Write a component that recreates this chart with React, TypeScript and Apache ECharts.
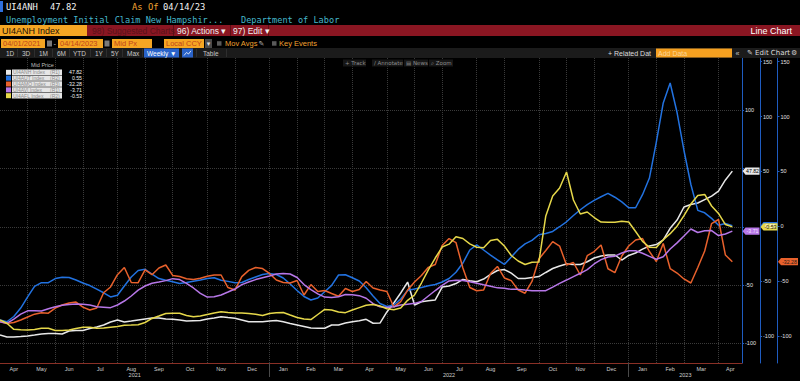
import React, { useEffect, useRef } from "react";
import * as echarts from "echarts";

// ---------- categories ----------
const FIRST_WEEK = "2021-04-02"; // weekly observations (Fridays)
const WEEKS = 107;
const monthNames = ["Jan", "Feb", "Mar", "Apr", "May", "Jun", "Jul", "Aug", "Sep", "Oct", "Nov", "Dec"];

// ---------- series values ----------
const nhValues = [
  -92.9, -94.6, -94.6, -94.2, -93.7, -92.9, -92.0, -91.6, -91.6, -92.0,
  -89.4, -89.0, -89.0, -87.3, -86.0, -84.3, -81.7, -80.0, -81.7, -80.9,
  -80.0, -79.1, -78.3, -78.3, -79.1, -79.4, -80.0, -80.9, -80.6, -80.4,
  -79.1, -78.3, -77.2, -77.9, -78.5, -80.0, -81.5, -81.5, -81.5, -80.9,
  -80.4, -81.5, -83.0, -84.3, -85.6, -86.9, -87.1, -87.1, -84.3, -84.3,
  -82.6, -81.5, -80.6, -79.4, -82.8, -82.6, -73.1, -65.4, -56.8, -47.4,
  -67.1, -64.3, -63.4, -62.8, -51.7, -50.8, -48.7, -45.2, -46.3, -47.1,
  -44.8, -40.9, -37.5, -36.7, -39.7, -44.4, -44.4, -43.5, -42.7, -39.2,
  -35.8, -33.6, -31.9, -32.4, -32.4, -30.0, -26.8, -25.1, -24.2, -24.2,
  -28.5, -24.6, -22.5, -19.1, -16.5, -15.2, -11.3, -1.3, 5.8, 17.0,
  19.1, 20.4, 23.4, 26.4, 30.7, 40.2, 47.82,
];
const utValues = [
  -85.4, -87.0, -82.2, -74.5, -64.4, -54.7, -51.4, -51.4, -47.6, -46.5,
  -46.7, -49.0, -51.7, -54.0, -57.3, -60.6, -64.4, -62.8, -54.4, -46.2,
  -40.3, -39.2, -43.5, -47.6, -49.1, -50.5, -52.1, -51.2, -50.0, -49.0,
  -47.6, -46.9, -49.1, -50.2, -51.5, -51.2, -48.5, -46.2, -43.9, -43.0,
  -43.9, -47.1, -52.6, -58.5, -64.0, -67.2, -65.4, -59.6, -53.8, -44.4,
  -44.2, -46.9, -49.9, -56.0, -63.5, -70.4, -73.1, -71.7, -66.3, -58.5,
  -57.2, -55.8, -54.1, -53.1, -50.8, -47.6, -41.9, -33.5, -21.6, -17.0,
  -21.6, -26.2, -30.7, -34.8, -28.0, -21.1, -16.0, -12.9, -7.7, -6.6,
  -4.7, -0.4, 4.1, 9.8, 15.1, 19.8, 23.6, 26.9, 30.0, 26.5,
  22.2, 16.9, 16.9, 28.8, 44.0, 76.8, 112.4, 130.6, 103.7, 69.1,
  38.1, 14.5, 12.3, 7.2, 0.9, 2.6, 0.55,
];
const moValues = [
  -87.0, -88.6, -87.7, -85.4, -82.7, -80.1, -78.9, -79.2, -74.5, -71.7,
  -70.0, -69.1, -73.7, -76.3, -74.5, -60.6, -55.3, -44.1, -37.6, -51.2,
  -51.4, -39.8, -44.1, -38.0, -35.3, -44.8, -45.8, -47.8, -48.4, -47.4,
  -45.6, -44.4, -44.4, -55.8, -58.1, -45.9, -40.2, -37.6, -38.5, -43.0,
  -49.0, -51.2, -51.7, -49.4, -62.6, -53.1, -59.4, -58.5, -61.3, -63.8,
  -56.7, -59.4, -57.6, -50.3, -56.2, -58.1, -59.4, -73.6, -68.6, -58.1,
  -50.8, -44.8, -37.4, -34.8, -17.5, -11.2, -14.8, -38.0, -55.8, -58.7,
  -58.1, -43.0, -36.6, -47.1, -49.5, -58.1, -61.0, -50.3, -29.8, -22.1,
  -14.0, -18.0, -35.3, -33.0, -44.4, -26.8, -23.0, -17.0, -38.7, -42.3,
  -27.1, -18.0, -12.5, -11.1, -23.0, -32.1, -15.7, -38.5, -42.6, -48.0,
  -51.7, -37.6, -22.5, 2.5, 6.2, -26.2, -32.28,
];
const viValues = [
  -81.5, -82.9, -79.2, -74.9, -72.1, -72.1, -72.3, -70.3, -68.6, -67.4,
  -66.7, -66.3, -66.5, -67.1, -68.6, -69.0, -69.4, -67.1, -63.7, -59.4,
  -54.3, -50.8, -48.5, -47.4, -46.2, -44.5, -45.3, -48.5, -52.5, -57.1,
  -60.3, -60.1, -58.5, -56.0, -53.4, -49.6, -47.4, -45.3, -43.7, -42.2,
  -40.5, -40.1, -40.5, -43.5, -49.6, -53.9, -57.6, -60.3, -60.6, -60.0,
  -58.1, -58.4, -59.1, -61.3, -66.0, -68.6, -69.2, -68.7, -67.1, -66.4,
  -65.7, -64.1, -59.4, -54.7, -50.2, -46.5, -45.9, -46.1, -47.1, -48.5,
  -49.8, -51.0, -52.4, -52.7, -53.7, -53.7, -54.3, -54.8, -54.8, -54.8,
  -51.7, -48.5, -45.7, -42.7, -39.9, -36.8, -31.9, -28.2, -25.9, -25.2,
  -22.5, -20.5, -20.5, -22.7, -25.4, -27.9, -25.7, -19.1, -13.8, -7.9,
  -1.9, -4.9, -3.3, -3.2, -7.5, -6.2, -3.71,
];
const flValues = [
  -85.4, -88.4, -93.9, -94.3, -94.5, -94.1, -93.0, -93.0, -95.0, -95.0,
  -94.5, -93.1, -92.1, -92.1, -93.0, -92.7, -92.0, -91.3, -90.2, -90.0,
  -89.7, -87.7, -84.0, -81.8, -79.5, -79.3, -79.3, -81.3, -82.4, -81.8,
  -80.4, -79.0, -77.9, -78.6, -79.0, -79.0, -79.5, -80.2, -81.3, -79.5,
  -78.8, -78.6, -80.9, -83.1, -84.5, -85.0, -80.4, -75.8, -76.3, -78.1,
  -78.7, -76.3, -74.1, -71.9, -71.2, -72.7, -75.1, -76.1, -74.5, -67.5,
  -62.6, -51.7, -39.8, -28.9, -18.9, -16.3, -9.6, -11.1, -16.0, -19.1,
  -19.6, -12.9, -11.9, -18.0, -26.6, -31.6, -34.8, -32.8, -32.5, 9.4,
  27.6, 34.9, 49.5, 24.0, 11.2, 13.0, 8.0, 3.9, 3.6, 3.7,
  4.6, 3.9, -4.7, -13.7, -19.1, -19.3, -12.3, -6.7, 0.1, 9.8,
  20.3, 28.1, 29.0, 18.5, 11.7, 1.6, -0.53,
];

const seriesNames = ["UI4ANH Index", "UI4AUT Index", "UI4AMO Index", "UI4AVI Index", "UI4AFL Index"];
const seriesAxisTags = ["(R1)", "(R2)", "(R3)", "(R1)", "(R2)"];
const seriesAxisIndex = [0, 1, 2, 0, 1];
const seriesValues = [nhValues, utValues, moValues, viValues, flValues];

// ---------- tick labels ----------
const r1Ticks = [-100, -50, 0, 50, 100];
const r1Labels = [-100, -50, 100]; // 50 and 0 sit under the value badges
const r2Ticks = [-100, -50, 0, 50, 100, 150];
const r2Labels = [-100, -50, 50, 100, 150]; // 0 sits under the value badge
const r3Ticks = [-100, -50, 0, 50, 100, 150];
const r3Labels = [-100, -50, 0, 50, 100, 150];

// ---------- styles ----------
const seriesColors = ["#e8e8e8", "#2272e0", "#e8612c", "#b777e8", "#e6d84a"];
const badgeText = ["#000000", "#ffffff", "#1a1a1a", "#f4e6ff", "#1a1a1a"];
const SANS = "Liberation Sans, Arial, sans-serif";
const MONO = "DejaVu Sans Mono, Liberation Mono, monospace";
const ORANGE = "#f5a623";
const AXIS_BLUE = "#1f5cc0";
const X_MAX = 107.4;

// derived category structure
const weekDates = Array.from({ length: WEEKS }, (_, i) => {
  const d = new Date(FIRST_WEEK + "T00:00:00Z");
  d.setUTCDate(d.getUTCDate() + 7 * i);
  return d;
});
const monthEnds: number[] = [];
for (let i = 0; i < WEEKS - 1; i++) {
  if (weekDates[i].getUTCMonth() !== weekDates[i + 1].getUTCMonth()) monthEnds.push(i);
}
const monthLabelPos: number[] = [];
const monthLabelText: string[] = [];
{
  let prev = 0;
  monthEnds.forEach((b) => {
    monthLabelPos.push((prev + b) / 2);
    monthLabelText.push(monthNames[weekDates[b].getUTCMonth()]);
    prev = b;
  });
  monthLabelPos.push((prev + X_MAX) / 2);
  monthLabelText.push(monthNames[weekDates[WEEKS - 1].getUTCMonth()]);
}
const yearEnds = monthEnds.filter((b) => weekDates[b].getUTCFullYear() !== weekDates[b + 1].getUTCFullYear());
const yearLabelPos: number[] = [];
const yearLabelText: string[] = [];
{
  let prev = 0;
  yearEnds.forEach((b) => {
    yearLabelPos.push((prev + b) / 2);
    yearLabelText.push(String(weekDates[b].getUTCFullYear()));
    prev = b;
  });
  yearLabelPos.push((prev + X_MAX) / 2);
  yearLabelText.push(String(weekDates[WEEKS - 1].getUTCFullYear()));
}
const lookup = (pos: number[], txt: string[]) => (v: number) => {
  for (let j = 0; j < pos.length; j++) if (Math.abs(pos[j] - v) < 0.01) return txt[j];
  return "";
};

// ---------- graphic helpers ----------
const T = (x: number, y: number, text: string, fill: string, fontSize: number, family = SANS, align = "left", extra: any = {}) => ({
  type: "text",
  x,
  y,
  silent: true,
  z: 60,
  style: {
    text,
    fill,
    fontSize,
    fontFamily: family,
    align,
    textAlign: align,
    verticalAlign: "middle",
    textVerticalAlign: "middle",
    ...extra,
  },
});
const R = (x: number, y: number, w: number, h: number, fill: string, z = 55) => ({
  type: "rect",
  silent: true,
  z,
  shape: { x, y, width: w, height: h },
  style: { fill },
});
const L = (x1: number, y1: number, x2: number, y2: number, stroke: string) => ({
  type: "line",
  silent: true,
  z: 58,
  shape: { x1, y1, x2, y2 },
  style: { stroke, lineWidth: 1 },
});

function staticGraphics(): any[] {
  const g: any[] = [];
  // header rows
  g.push(R(0, 1, 3, 11, "#2f6fdc"));
  g.push(T(6, 7, "UI4ANH", "#f2f2f2", 8.8, MONO));
  g.push(T(50, 7, "47.82", "#f2f2f2", 8.8, MONO));
  g.push(T(132, 7, "As Of", "#f0a432", 8.8, MONO));
  g.push(T(163, 7, "04/14/23", "#f2f2f2", 8.8, MONO));
  g.push(T(6, 19.5, "Unemployment Initial Claim New Hampshir...", "#45b8cc", 8.6, MONO));
  g.push(T(241, 19.5, "Department of Labor", "#45b8cc", 8.6, MONO));
  // red bar
  g.push(R(0, 25, 800, 11, "#8a1622"));
  g.push(R(0, 25, 87, 11, ORANGE, 56));
  g.push(T(2, 30.5, "UI4ANH Index", "#1a0f05", 9));
  g.push(T(92, 30.5, "98) Suggested Charts", "#571219", 8.5));
  g.push(L(173.5, 25, 173.5, 36, "#5e0e16"));
  g.push(L(230.5, 25, 230.5, 36, "#5e0e16"));
  g.push(L(268.5, 25, 268.5, 36, "#5e0e16"));
  g.push(T(177, 30.5, "96) Actions \u25BE", "#f0f0f0", 8.5));
  g.push(T(233, 30.5, "97) Edit \u25BE", "#f0f0f0", 8.5));
  g.push(T(792, 30.5, "Line Chart", "#ffffff", 9, SANS, "right"));
  // row 3
  const dateTxt = "#c0441a";
  g.push(R(1, 39, 44, 9, ORANGE));
  g.push(T(3, 43.5, "04/01/2021", dateTxt, 7.5));
  g.push(R(47, 40.5, 5, 6, "#7a7a7a"));
  g.push(T(53.5, 43.5, "-", "#bbbbbb", 7.5));
  g.push(R(58, 39, 45, 9, ORANGE));
  g.push(T(60, 43.5, "04/14/2023", dateTxt, 7.5));
  g.push(R(104.5, 40.5, 5, 6, "#7a7a7a"));
  g.push(R(112, 39, 40, 9, ORANGE));
  g.push(T(114, 43.5, "Mid Px", dateTxt, 7.5));
  g.push(R(164, 39, 40, 9, ORANGE));
  g.push(T(166, 43.5, "Local CCY", dateTxt, 7.5));
  g.push(R(205, 39, 7, 9, "#4a4a4a"));
  g.push(T(208.5, 43.5, "\u25BE", "#dddddd", 7, "DejaVu Sans", "center"));
  g.push(R(217, 41.2, 4.5, 4.5, "#5a5a5a"));
  g.push(T(225, 43.5, "Mov Avgs", "#f0a030", 7.5));
  g.push(T(258.5, 43.5, "\u270E", "#bbbbbb", 7, "DejaVu Sans"));
  g.push(R(272, 41.2, 4.5, 4.5, "#5a5a5a"));
  g.push(T(279, 43.5, "Key Events", "#f0a030", 7.5));
  // row 4
  g.push(R(0, 48, 800, 10, "#1b1b1b", 50));
  const periods: [string, number][] = [["1D", 6], ["3D", 22], ["1M", 39], ["6M", 57], ["YTD", 73], ["1Y", 95], ["5Y", 111], ["Max", 127]];
  periods.forEach(([t, x]) => g.push(T(x, 53, t, "#c8c8c8", 6.5)));
  [17, 34, 52, 69, 90, 106, 122, 142, 196, 226].forEach((x) => g.push(L(x + 0.5, 49, x + 0.5, 57, "#2e2e2e")));
  g.push(R(144, 48.5, 35, 9, "#2a63c9"));
  g.push(T(147, 53, "Weekly \u25BC", "#ffffff", 6.5));
  g.push(R(182, 48.5, 11, 9, "#2a63c9"));
  g.push({
    type: "polyline",
    silent: true,
    z: 60,
    shape: { points: [[184, 55.5], [186.5, 52.5], [188.5, 54], [191, 50.8]] },
    style: { stroke: "#ffffff", lineWidth: 0.8, fill: null },
  });
  g.push(T(203, 53, "Table", "#c8c8c8", 6.5));
  g.push(T(608, 53, "+ Related Dat", "#dcdcdc", 7));
  g.push(R(656, 48.5, 76, 9, "#f5a020"));
  g.push(T(658, 53, "Add Data", "#fbd596", 7));
  g.push(T(735.5, 53, "\u00AB", "#cccccc", 7));
  g.push(T(747, 53, "\u270E Edit Chart", "#dcdcdc", 7, "DejaVu Sans, " + SANS));
  g.push(T(791, 53, "\u2699", "#cccccc", 7, "DejaVu Sans"));
  // in-chart tool buttons
  const tools: [string, number, number][] = [["+ Track", 343, 23], ["\u2215 Annotate", 372, 31], ["\u25A4 News", 404, 24], ["\u2315 Zoom", 429, 24]];
  tools.forEach(([t, x, w]) => {
    g.push(R(x, 59.5, w, 7, "#161616"));
    g.push(T(x + 2, 63, t, "#8c8c8c", 5.5, "DejaVu Sans, " + SANS));
  });
  // legend
  g.push(T(31, 65, "Mid Price", "#bdbdbd", 5.5));
  seriesNames.forEach((name, k) => {
    const yc = 72.3 + 5.85 * k;
    g.push(R(6, yc - 2.5, 5, 5, seriesColors[k]));
    g.push(R(12, yc - 2.7, 50, 5.4, "#e6e6e6"));
    g.push(T(13, yc, name, "#8a8a8a", 5));
    g.push(T(50, yc, seriesAxisTags[k], "#8a8a8a", 5));
    const last = seriesValues[k][seriesValues[k].length - 1];
    g.push(T(82, yc, last.toFixed(2), "#f0f0f0", 5.2, SANS, "right"));
  });
  return g;
}

const yAxisDef = (offset: number, min: number, max: number, ticks: number[], labels: number[], grid: boolean) => ({
  type: "value",
  position: "right",
  offset,
  min,
  max,
  axisLine: { show: true, onZero: false, lineStyle: { color: AXIS_BLUE, width: 1 } },
  axisTick: { show: true, length: 2, customValues: ticks, lineStyle: { color: AXIS_BLUE } },
  axisLabel: { show: true, customValues: labels, color: "#e0e0e0", fontSize: 5.5, margin: 3, fontFamily: SANS },
  splitLine: { show: grid, lineStyle: { color: "#3a3a3a", type: "dotted", width: 1 } },
});

const GRID_RIGHT_X = 742;
const axisX = [GRID_RIGHT_X, GRID_RIGHT_X + 18, GRID_RIGHT_X + 35.5];
const badgeW = [17, 17, 20];

export default function App() {
  const ref = useRef<HTMLDivElement>(null);
  useEffect(() => {
    document.body.style.margin = "0";
    document.body.style.background = "#000";
    const chart = echarts.init(ref.current!, null, { renderer: "svg" });
    const option: any = {
      animation: false,
      backgroundColor: "#000000",
      textStyle: { fontFamily: SANS },
      grid: { left: 0, top: 58, width: GRID_RIGHT_X, height: 305, containLabel: false },
      xAxis: [
        {
          type: "value",
          position: "bottom",
          min: 0,
          max: X_MAX,
          axisLine: { show: true, onZero: false, lineStyle: { color: "#8a3026", width: 1 } },
          axisTick: { show: false, customValues: monthEnds },
          splitLine: { show: true, lineStyle: { color: "#3a3a3a", type: "dotted", width: 1 } },
          axisLabel: {
            customValues: monthLabelPos,
            formatter: lookup(monthLabelPos, monthLabelText),
            color: "#d0d0d0",
            fontSize: 5.5,
            margin: 3,
          },
        },
        {
          type: "value",
          position: "bottom",
          min: 0,
          max: X_MAX,
          axisLine: { show: false, onZero: false },
          axisTick: { show: true, customValues: yearEnds, length: 14, lineStyle: { color: "#4a4a4a" } },
          splitLine: { show: false },
          axisLabel: {
            customValues: yearLabelPos,
            formatter: lookup(yearLabelPos, yearLabelText),
            color: "#d0d0d0",
            fontSize: 5.5,
            margin: 9,
          },
        },
      ],
      yAxis: [
        yAxisDef(0, -116.9, 144.9, r1Ticks, r1Labels, true),
        yAxisDef(18, -124.6, 153.4, r2Ticks, r2Labels, false),
        yAxisDef(35.5, -124.6, 153.4, r3Ticks, r3Labels, false),
      ],
      series: seriesValues.map((vals, k) => ({
        type: "line",
        name: seriesNames[k],
        xAxisIndex: 0,
        yAxisIndex: seriesAxisIndex[k],
        data: vals.map((v, i) => [i, v]),
        showSymbol: false,
        symbol: "none",
        silent: true,
        z: 2 + k,
        lineStyle: { color: seriesColors[k], width: 1.5 },
        itemStyle: { color: seriesColors[k] },
      })),
    };
    chart.setOption(option);

    // value badges on the right axes
    const badgeOrder = [0, 3, 1, 4, 2];
    const badges = badgeOrder.map((k) => {
      const vals = seriesValues[k];
      const last = vals[vals.length - 1];
      const ai = seriesAxisIndex[k];
      const py = chart.convertToPixel({ yAxisIndex: ai } as any, last) as unknown as number;
      const w = badgeW[ai];
      return {
        type: "group",
        x: axisX[ai] + 0.5,
        y: py,
        z: 100,
        silent: true,
        children: [
          {
            type: "polygon",
            z: 100,
            shape: { points: [[0, 0], [3, -3.6], [w, -3.6], [w, 3.6], [3, 3.6]] },
            style: { fill: seriesColors[k] },
          },
          {
            type: "text",
            z: 101,
            x: (w + 3) / 2,
            y: 0,
            style: {
              text: last.toFixed(2),
              fill: badgeText[k],
              fontSize: 5.2,
              fontFamily: SANS,
              align: "center",
              textAlign: "center",
              verticalAlign: "middle",
              textVerticalAlign: "middle",
            },
          },
        ],
      };
    });
    chart.setOption({ graphic: [...staticGraphics(), ...badges] });
    return () => chart.dispose();
  }, []);
  return <div ref={ref} style={{ position: "absolute", left: 0, top: 0, width: 800, height: 381 }} />;
}
